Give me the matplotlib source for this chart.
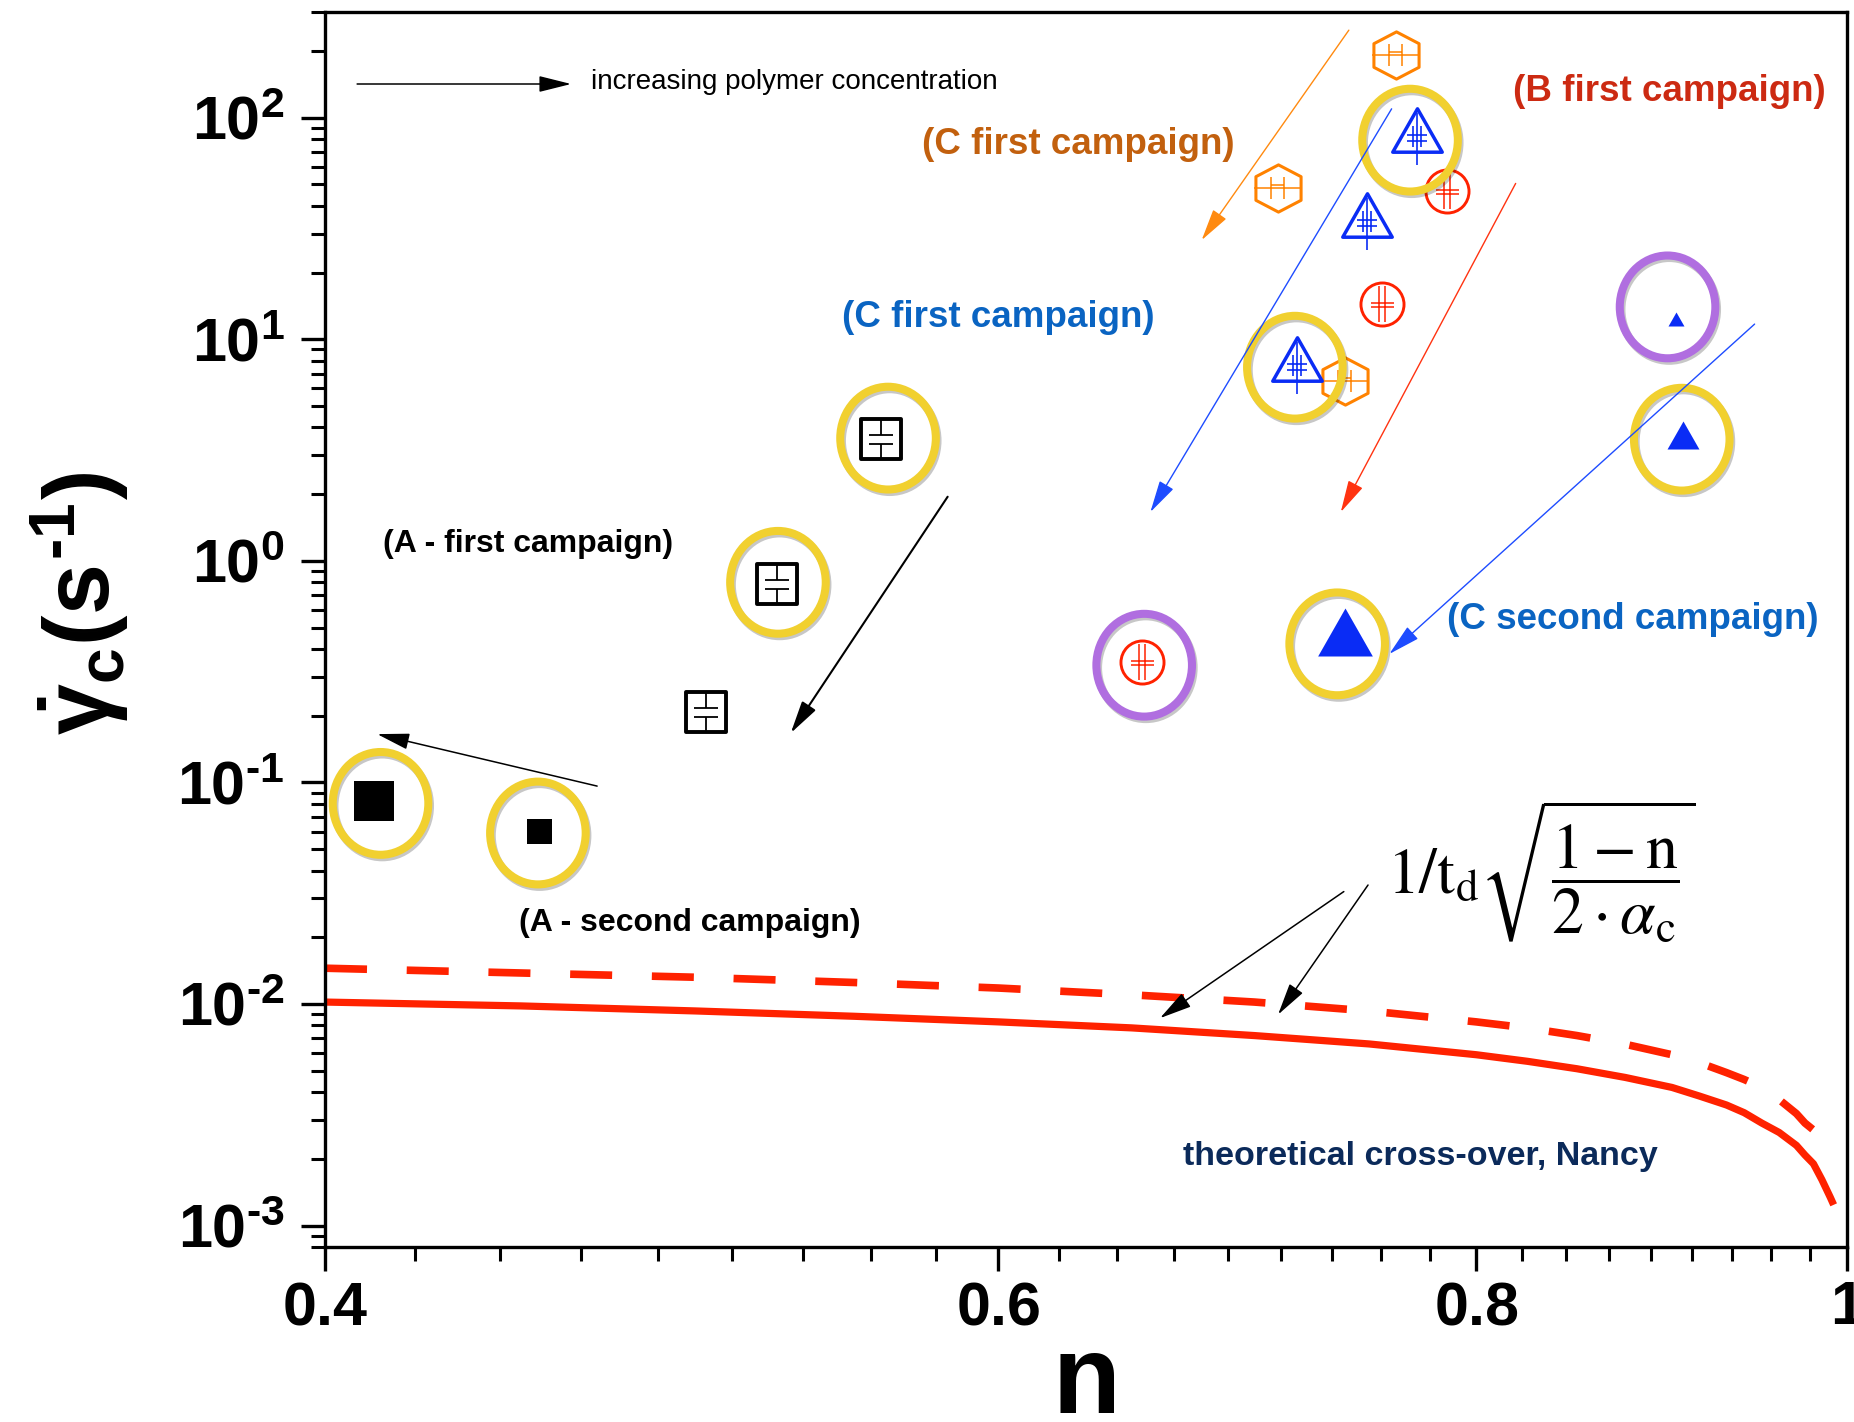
import matplotlib
matplotlib.use("Agg")
import matplotlib.pyplot as plt
import matplotlib.patheffects as pe
from matplotlib.path import Path
from matplotlib.markers import MarkerStyle
from matplotlib.transforms import Affine2D
from matplotlib.ticker import FixedLocator, FixedFormatter, NullFormatter, LogLocator

# ---------------------------------------------------------------- data
# A, first campaign (open squares)
a1_n = [0.559, 0.525, 0.503]
a1_rate = [3.54, 0.79, 0.207]
# A, second campaign (filled squares)
a2_n = [0.412, 0.455]
a2_rate = [0.0823, 0.0606]
# B, first campaign (open circles)
b1_n = [0.786, 0.756, 0.654]
b1_rate = [46.6, 14.4, 0.348]
# C, first campaign (open triangles and open hexagons)
c1_tri_n = [0.772, 0.749, 0.718]
c1_tri_rate = [87.6, 36.2, 8.11]
c1_hex_n = [0.762, 0.710, 0.739]
c1_hex_rate = [190.9, 48.0, 6.46]
# C, second campaign (filled triangles)
c2_n = [0.902, 0.906, 0.739]
c2_rate = [12.3, 3.68, 0.475]

# highlighted points (ring colour: 'y' yellow, 'p' purple)
ring_n = [0.4136, 0.4547, 0.5254, 0.5614, 0.7172, 0.7687, 0.9053, 0.7357, 0.655, 0.8976]
ring_rate = [0.0804, 0.0591, 0.80, 3.58, 7.48, 79.2, 3.54, 0.422, 0.338, 14.0]
ring_kind = ['y', 'y', 'y', 'y', 'y', 'y', 'y', 'y', 'p', 'p']

# theoretical cross-over curves
theory_n = [0.40, 0.45, 0.50, 0.55, 0.60, 0.65, 0.70, 0.75, 0.80, 0.825, 0.85,
            0.875, 0.90, 0.915, 0.93, 0.94, 0.95, 0.96, 0.97, 0.975, 0.98,
            0.985, 0.99, 0.992]
theory_rate = [0.0102, 0.0098, 0.0093, 0.0088, 0.0083, 0.0078, 0.0072, 0.0066,
               0.0059, 0.00551, 0.0051, 0.00466, 0.0042, 0.00384, 0.0035, 0.00323,
               0.0029, 0.00263, 0.0023, 0.00208, 0.0019, 0.00161, 0.00134, 0.00124]
theory2_n = [0.40, 0.45, 0.50, 0.55, 0.60, 0.65, 0.70, 0.75, 0.80, 0.825, 0.85,
             0.875, 0.90, 0.915, 0.93, 0.94, 0.95, 0.96, 0.97, 0.975, 0.98]
theory2_rate = [0.0145, 0.0138, 0.0132, 0.0125, 0.0118, 0.0110, 0.0102, 0.0093,
                0.0083, 0.00779, 0.0072, 0.00658, 0.0059, 0.00543, 0.0049, 0.00456,
                0.0042, 0.0037, 0.0032, 0.0029, 0.0027]

x_major = [0.4, 0.6, 0.8, 1.0]
x_labels = ['0.4', '0.6', '0.8', '1']
y_major = [1e-3, 1e-2, 1e-1, 1e0, 1e1, 1e2]
y_exponents = ['\u20103', '\u20102', '\u20101', '0', '1', '2']

# ---------------------------------------------------------------- style
plt.rcParams['font.family'] = ['Liberation Sans', 'DejaVu Sans']
plt.rcParams['mathtext.fontset'] = 'custom'
plt.rcParams['mathtext.rm'] = 'Liberation Sans:bold'
plt.rcParams['mathtext.it'] = 'Liberation Sans:bold'
plt.rcParams['mathtext.bf'] = 'Liberation Sans:bold'
plt.rcParams['mathtext.sf'] = 'Liberation Sans:bold'

RED = '#FF2200'
BLUE = '#0A2CF5'
ORANGE = '#FF8200'
YELLOW = '#F1D02F'
PURPLE = '#B06EE0'


def symbol(outline=None, lines=(), extent=1.0):
    """Marker path: optional closed outline plus open strokes, scaled so
    that `extent` maps onto half the marker size."""
    verts, codes = [(0.0, extent)], [Path.MOVETO]
    if outline is not None:
        verts += list(outline) + [outline[0]]
        codes += [Path.MOVETO] + [Path.LINETO] * (len(outline) - 1) + [Path.CLOSEPOLY]
    for x0, y0, x1, y1 in lines:
        verts += [(x0, y0), (x1, y1)]
        codes += [Path.MOVETO, Path.LINETO]
    return Path(verts, codes)


def mstyle(path):
    return MarkerStyle(path, joinstyle='miter')


SQ_BOX = mstyle(symbol([(-1, -1), (1, -1), (1, 1), (-1, 1)]))
SQ_IN = mstyle(symbol(lines=[(0, 1, 0, 0.2), (0, -0.25, 0, -1),
                             (-0.6, 0.2, 0.6, 0.2), (-0.6, -0.25, 0.6, -0.25)]))

TRI = [(0, 1), (-1.14, -1), (1.14, -1)]
TRI_BOX = mstyle(symbol(TRI, extent=1.6))
TRI_IN = mstyle(symbol(lines=[(0, 0.8, 0, -1.6), (-0.2, 0.2, -0.2, -0.8),
                              (0.2, 0.2, 0.2, -0.8), (-0.45, -0.25, 0.45, -0.25),
                              (-0.45, -0.5, 0.45, -0.5)], extent=1.6))
TRI_FILL = mstyle(symbol(TRI, extent=1.14))

HEX = [(0, 1), (0.956, 0.5), (0.956, -0.5), (0, -1), (-0.956, -0.5), (-0.956, 0.5)]
HEX_BOX = mstyle(symbol(HEX))
HEX_IN = mstyle(symbol(lines=[(-1.0, 0.0, 1.0, 0.0), (-0.3, 0.45, -0.3, -0.45),
                              (0.25, 0.45, 0.25, -0.45), (-0.3, 0.12, 0.25, 0.12)]))

CIRC_IN = mstyle(symbol(lines=[(-0.15, 0.85, -0.15, -0.85), (0.12, 0.85, 0.12, -0.85),
                               (-0.5, 0.05, 0.55, 0.05), (-0.5, -0.12, 0.55, -0.12)]))

RING = mstyle(Path.unit_circle().transformed(Affine2D().scale(0.93, 1.0)))

# ---------------------------------------------------------------- figure
fig = plt.figure(figsize=(18.54, 14.22), dpi=100)
ax = fig.add_axes([325 / 1854, 1 - 1247 / 1422, 1522 / 1854, 1235 / 1422])
ax.set_xscale('log')
ax.set_yscale('log')
ax.set_xlim(0.4, 1.0)
ax.set_ylim(8e-4, 300)

# theory curves
ax.plot(theory_n, theory_rate, color=RED, lw=5.2, solid_capstyle='butt',
        solid_joinstyle='round', zorder=2)
ax.plot(theory2_n, theory2_rate, color=RED, lw=5.5, dashes=(5.5, 5.2),
        dash_capstyle='butt', zorder=2)

# A first campaign
ax.plot(a1_n, a1_rate, ls='none', marker=SQ_BOX, ms=29, mfc='none', mec='k', mew=2.8, zorder=3)
ax.plot(a1_n, a1_rate, ls='none', marker=SQ_IN, ms=29, mfc='none', mec='k', mew=1.3, zorder=3)
# A second campaign
a2_size = [28.8, 18.0]
for n, r, s in zip(a2_n, a2_rate, a2_size):
    ax.plot([n], [r], ls='none', marker='s', ms=s, mfc='k', mec='k', mew=0, zorder=3)
# B first campaign
ax.plot(b1_n, b1_rate, ls='none', marker='o', ms=31, mfc='none', mec=RED, mew=2.1, zorder=3)
ax.plot(b1_n, b1_rate, ls='none', marker=CIRC_IN, ms=31, mfc='none', mec=RED, mew=1.1, zorder=3)
# C first campaign
ax.plot(c1_hex_n, c1_hex_rate, ls='none', marker=HEX_BOX, ms=34, mfc='none', mec=ORANGE, mew=2.2, zorder=3)
ax.plot(c1_hex_n, c1_hex_rate, ls='none', marker=HEX_IN, ms=34, mfc='none', mec=ORANGE, mew=1.1, zorder=3)
ax.plot(c1_tri_n, c1_tri_rate, ls='none', marker=TRI_BOX, ms=50, mfc='none', mec=BLUE, mew=2.5, zorder=3)
ax.plot(c1_tri_n, c1_tri_rate, ls='none', marker=TRI_IN, ms=50, mfc='none', mec=BLUE, mew=1.2, zorder=3)
# C second campaign
c2_size = [11.5, 23.0, 39.4]
for n, r, s in zip(c2_n, c2_rate, c2_size):
    ax.plot([n], [r], ls='none', marker=TRI_FILL, ms=s, mfc=BLUE, mec=BLUE, mew=0, zorder=3)

# highlight rings
ring_colors = {'y': YELLOW, 'p': PURPLE}
for kind in ('y', 'p'):
    xs = [n for n, k in zip(ring_n, ring_kind) if k == kind]
    ys = [r for r, k in zip(ring_rate, ring_kind) if k == kind]
    ax.plot(xs, ys, ls='none', marker=RING, ms=74, mfc='none', mec=ring_colors[kind],
            mew=5.8, zorder=4,
            path_effects=[pe.SimpleLineShadow(offset=(1.2, -1.8), shadow_color='k', alpha=0.22),
                          pe.Normal()])

# arrows (axes-fraction coordinates: start, end)
arrow_specs = [
    ((0.0211, 0.9417), (0.1617, 0.9417), 'k', 1.1),
    ((0.6727, 0.9853), (0.5760, 0.8153), '#FF8A10', 1.0),
    ((0.7008, 0.9216), (0.5423, 0.5951), '#1E4CFF', 1.0),
    ((0.7823, 0.8612), (0.6674, 0.5951), '#FF3311', 1.0),
    ((0.9393, 0.7473), (0.6993, 0.4802), '#1E4CFF', 1.0),
    ((0.4091, 0.6075), (0.3060, 0.4161), 'k', 1.5),
    ((0.1788, 0.3732), (0.0343, 0.4153), 'k', 1.1),
    ((0.6694, 0.2878), (0.5486, 0.1853), 'k', 1.1),
    ((0.6853, 0.2931), (0.6262, 0.1882), 'k', 1.1),
]
for start, end, col, lw in arrow_specs:
    ax.annotate('', xy=end, xytext=start, xycoords='axes fraction',
                textcoords='axes fraction',
                arrowprops=dict(arrowstyle='-|>,head_length=20,head_width=5',
                                mutation_scale=1, color=col, lw=lw,
                                shrinkA=0, shrinkB=0), zorder=5)

# annotations
ax.text(0.1748, 0.9436, 'increasing polymer concentration', transform=ax.transAxes,
        fontsize=20, ha='left', va='center', color='k')
label_specs = [
    (0.4949, 0.8927, '(C first campaign)', '#C2600E', 26.5),
    (0.8834, 0.9358, '(B first campaign)', '#CC2A12', 26.5),
    (0.4422, 0.7530, '(C first campaign)', '#0A64C2', 26.5),
    (0.1337, 0.5690, '(A - first campaign)', 'k', 23),
    (0.2394, 0.2625, '(A - second campaign)', 'k', 23),
    (0.8593, 0.5080, '(C second campaign)', '#0A64C2', 26.5),
    (0.7194, 0.0733, 'theoretical cross-over, Nancy', '#0B2A5A', 24.5),
]
for fx, fy, txt, col, size in label_specs:
    ax.text(fx, fy, txt, transform=ax.transAxes, fontsize=size, fontweight='bold',
            color=col, ha='center', va='center')

ax.text(0.7995, 0.3040,
        r'$1/\mathrm{t}_{\mathrm{d}}\sqrt{\dfrac{1-\mathrm{n}}{2\cdot\alpha_{\mathrm{c}}}}$',
        transform=ax.transAxes, fontsize=46, color='k', ha='center', va='center',
        math_fontfamily='stix')

# axes, ticks, labels
for side in ('left', 'bottom', 'top', 'right'):
    ax.spines[side].set_linewidth(2.4)

ax.xaxis.set_major_locator(FixedLocator(x_major))
ax.xaxis.set_major_formatter(FixedFormatter([r'$%s$' % s for s in x_labels]))
x_minor = [a + k * (b - a) / 9 for a, b in zip(x_major[:-1], x_major[1:]) for k in range(1, 9)]
ax.xaxis.set_minor_locator(FixedLocator(x_minor))
ax.xaxis.set_minor_formatter(NullFormatter())

ax.yaxis.set_major_locator(FixedLocator(y_major))
ax.yaxis.set_major_formatter(FixedFormatter([r'$10^{%s}$' % e for e in y_exponents]))
ax.yaxis.set_minor_locator(LogLocator(base=10, subs=range(2, 10), numticks=20))
ax.yaxis.set_minor_formatter(NullFormatter())

ax.tick_params(which='both', direction='out', top=False, right=False, labelsize=44)
ax.tick_params(which='major', length=17, width=2.4)
ax.tick_params(which='minor', length=10, width=2.2)
ax.tick_params(axis='x', which='major', pad=7)
ax.tick_params(axis='y', which='major', pad=12)

ax.set_xlabel('n', fontsize=80, fontweight='bold')
ax.xaxis.set_label_coords(0.5, -0.1345)
ax.xaxis.label.set_va('baseline')

ax.set_ylabel('$\\dot{\\gamma}_{c}(s^{\u20101})$', fontsize=66)
ax.yaxis.set_label_coords(-0.161, 0.521)
ax.yaxis.label.set_va('center')

fig.savefig('out.png', dpi=100, facecolor='white')
